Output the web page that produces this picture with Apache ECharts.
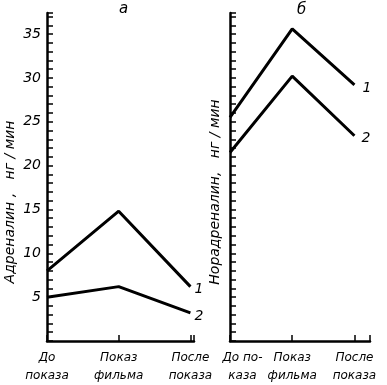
<!DOCTYPE html>
<html><head><meta charset="utf-8">
<script src="https://cdn.jsdelivr.net/npm/echarts@6/dist/echarts.min.js"></script>
<style>html,body{margin:0;padding:0;background:#fff}#c{width:387px;height:385px}</style>
</head><body><div id="c"></div>
<script>
const catsA = ['До\nпоказа', 'Показ\nфильма', 'После\nпоказа'];
const catsB = ['До по-\nказа', 'Показ\nфильма', 'После\nпоказа'];
const adrenalin1 = [8, 14.8, 6.2];
const adrenalin2 = [5, 6.2, 3.2];
const noradrenalin1 = [25.5, 35.6, 29.2];
const noradrenalin2 = [21.5, 30.2, 23.4];
const yTickLabels = [5, 10, 15, 20, 25, 30, 35];
const seriesNames = ['1', '2'];

const font = 'DejaVu Sans';
const pts = arr => arr.map((v, i) => [i, v]);
const near = (a, b) => Math.abs(a - b) < 1e-6;
const lblStyle = {fontFamily: font, fontStyle: 'italic', fontSize: 12, color: '#000', lineHeight: 18, margin: 8};

// left panel x axis: labels at category positions 0,1,2
const xA = {
  type: 'value', gridIndex: 0, position: 'bottom', min: 0, max: 2.05, interval: 1,
  axisLine: {show: true, lineStyle: {color: '#000', width: 2.5}},
  axisTick: {show: true, inside: true, length: 6, lineStyle: {color: '#000', width: 1.5}},
  splitLine: {show: false},
  axisLabel: Object.assign({formatter: v => (Number.isInteger(v) && catsA[v] !== undefined) ? catsA[v] : ''}, lblStyle)
};
// right panel x axis (line + labels); first label sits a little right of the y axis as in the original
const xB = {
  type: 'value', gridIndex: 1, position: 'bottom', min: 0, max: 2.25, interval: 0.2,
  axisLine: {show: true, lineStyle: {color: '#000', width: 2.5}},
  axisTick: {show: false},
  splitLine: {show: false},
  axisLabel: Object.assign({formatter: v => {
    if (near(v, 0.2)) return catsB[0];
    if (near(v, 1)) return catsB[1];
    if (near(v, 2)) return catsB[2];
    return '';
  }}, lblStyle)
};
// right panel tick marks at category positions
const xBt = {
  type: 'value', gridIndex: 1, position: 'bottom', min: 0, max: 2.25, interval: 1,
  axisLine: {show: false},
  axisTick: {show: true, inside: true, length: 6, lineStyle: {color: '#000', width: 1.5}},
  splitLine: {show: false},
  axisLabel: {show: false}
};

function yAx(idx, name, showLabels, nameGap, shift) {
  return {
    type: 'value', gridIndex: idx, min: 0, max: 37.4, interval: 1,
    name: name, nameLocation: 'middle', nameRotate: 90, nameGap: nameGap,
    nameTextStyle: {fontFamily: font, fontStyle: 'italic', fontSize: 14, color: '#000', padding: [0, shift, 0, 0]},
    axisLine: {show: true, lineStyle: {color: '#000', width: 2.5}},
    axisTick: {show: true, inside: true, length: 6, lineStyle: {color: '#000', width: 1.5}},
    splitLine: {show: false},
    axisLabel: {
      show: showLabels,
      formatter: v => yTickLabels.includes(v) ? String(v) : '',
      fontFamily: font, fontStyle: 'italic', fontSize: 14, color: '#000', margin: 6
    }
  };
}
function ser(data, xi, yi, name, dist) {
  return {
    type: 'line', xAxisIndex: xi, yAxisIndex: yi, data: pts(data),
    symbol: 'none', lineStyle: {color: '#000', width: 3}, itemStyle: {color: '#000'},
    silent: true, animation: false,
    endLabel: {show: true, formatter: name, fontFamily: font, fontStyle: 'italic',
      fontSize: 14, color: '#000', distance: dist, offset: [0, 3]}
  };
}

const chart = echarts.init(document.getElementById('c'), null, {renderer: 'canvas'});
chart.setOption({
  animation: false,
  backgroundColor: '#fff',
  title: [
    {text: 'а', left: 114, top: -3, textStyle: {fontFamily: font, fontStyle: 'italic', fontSize: 15, fontWeight: 'normal', color: '#000'}},
    {text: 'б', left: 292, top: -2, textStyle: {fontFamily: font, fontStyle: 'italic', fontSize: 15, fontWeight: 'normal', color: '#000'}}
  ],
  grid: [
    {left: 47, top: 13, width: 147, bottom: 43},
    {left: 230, top: 13, width: 140, bottom: 43}
  ],
  xAxis: [xA, xB, xBt],
  yAxis: [yAx(0, 'Адреналин ,   нг / мин', true, 30, 50), yAx(1, 'Норадреналин,   нг / мин', false, 8, 30)],
  series: [
    ser(adrenalin1, 0, 0, seriesNames[0], 4),
    ser(adrenalin2, 0, 0, seriesNames[1], 4),
    ser(noradrenalin1, 1, 1, seriesNames[0], 8),
    ser(noradrenalin2, 1, 1, seriesNames[1], 7)
  ]
});
</script></body></html>
